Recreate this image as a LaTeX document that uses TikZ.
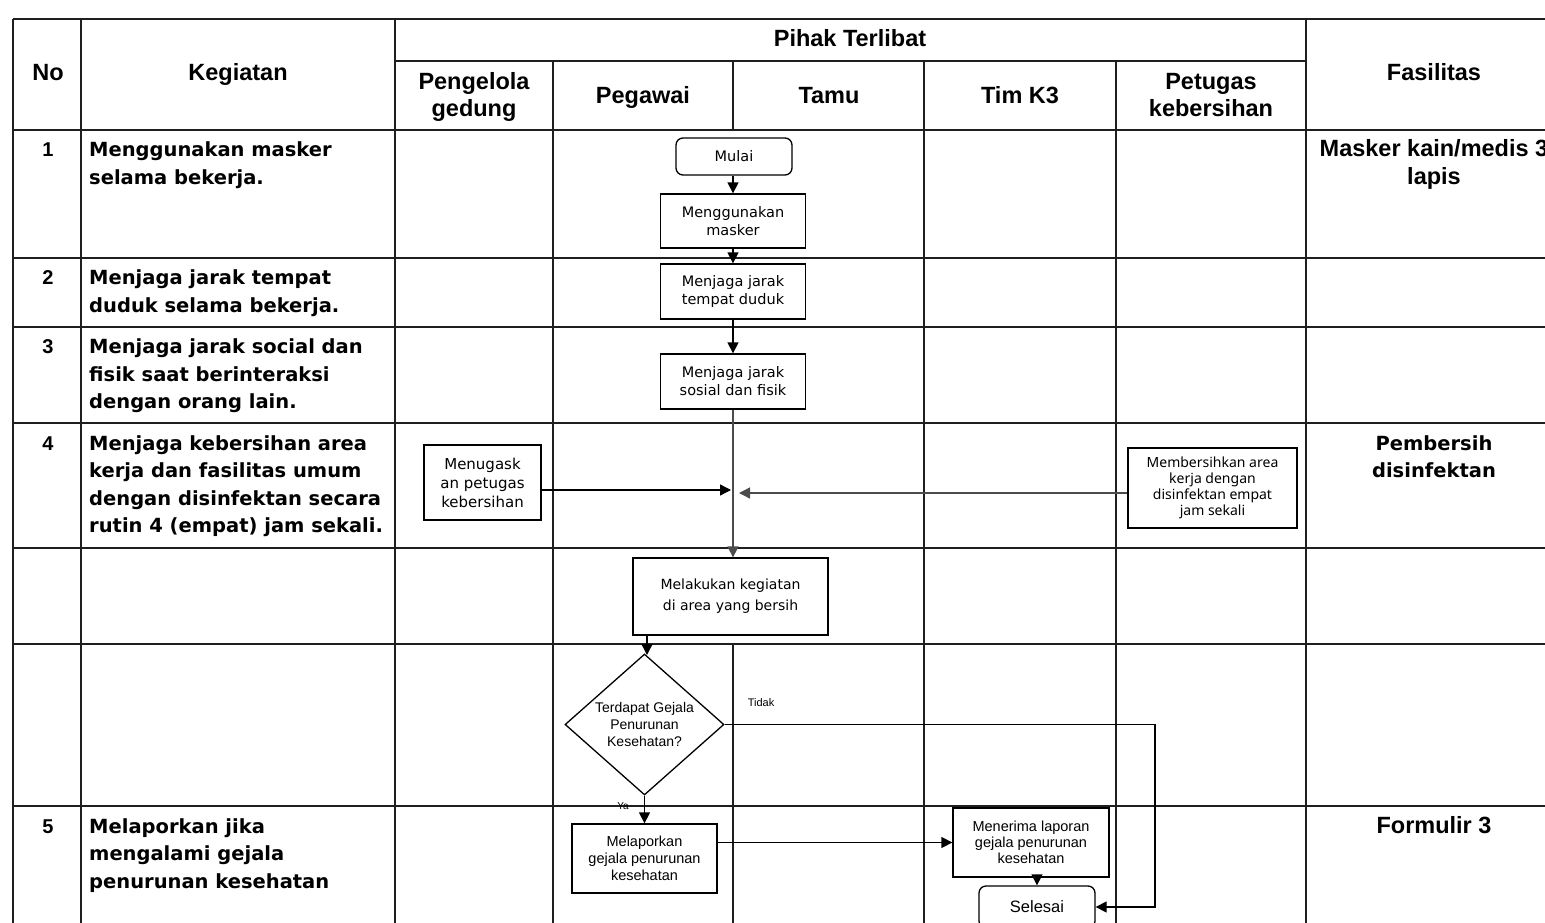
\documentclass[tikz,border=0pt]{standalone}
\usepackage{fontspec}
\setmainfont{Liberation Sans}
\newfontfamily\dvs{DejaVu Sans}
\newfontfamily\nts{Noto Sans}
\usetikzlibrary{arrows.meta,shapes.geometric}
\begin{document}
\begin{tikzpicture}[x=1pt,y=-1pt,
  tl/.style={line width=1.6pt,draw=black!88},
  hdr/.style={font=\bfseries\fontsize{23.5}{27.5}\selectfont,align=center,inner sep=0pt,anchor=base},
  num/.style={font=\bfseries\fontsize{20}{24}\selectfont,inner sep=0pt,anchor=base},
  rowt/.style={font=\dvs\bfseries\fontsize{19.5}{27.5}\selectfont,align=left,inner sep=0pt,anchor=base west},
  fas/.style={font=\bfseries\fontsize{23.5}{27.5}\selectfont,align=center,inner sep=0pt,anchor=base},
  fasn/.style={font=\dvs\bfseries\fontsize{19.5}{27.5}\selectfont,align=center,inner sep=0pt,anchor=base},
  box/.style={draw,line width=1.3pt,rectangle,inner sep=0pt,align=center,font=\dvs\fontsize{14.5}{18}\selectfont},
  rbox/.style={box,rounded corners=7pt},
  arr/.style={line width=1.3pt,draw=black,-{Triangle[length=11pt,width=11pt]}},
  small/.style={font=\fontsize{11}{13}\selectfont,inner sep=0pt}]
\useasboundingbox (0,0) rectangle (1545,923);
% ---------- table grid ----------
\draw[tl] (13,19) -- (1545,19);
\draw[tl] (395,61) -- (1306,61);
\foreach \y in {130,258,327,423,548,644,806} \draw[tl] (13,\y) -- (1545,\y);
\foreach \x in {13,81,395,1306} \draw[tl] (\x,19) -- (\x,930);
\foreach \x in {553,924,1116} \draw[tl] (\x,61) -- (\x,930);
\draw[tl] (733,61) -- (733,130);
\draw[tl] (733,644) -- (733,930);
% ---------- headers (anchor = baseline of last line) ----------
\node[hdr] (hno) at (48,81) {No};
\node[hdr] (hkeg) at (238,81) {Kegiatan};
\node[hdr] (hpihak) at (850,46.5) {Pihak Terlibat};
\node[hdr] (hpeng) at (474,117) {Pengelola\\gedung};
\node[hdr] (hpeg) at (643,103.5) {Pegawai};
\node[hdr] (htamu) at (829,103.5) {Tamu};
\node[hdr] (hk3) at (1020,103.5) {Tim K3};
\node[hdr] (hpet) at (1211,117) {Petugas\\kebersihan};
\node[hdr] (hfas) at (1434,81) {Fasilitas};
% ---------- numbers ----------
\node[num] (n1) at (48,156.7) {1};
\node[num] (n2) at (48,284.5) {2};
\node[num] (n3) at (48,353.5) {3};
\node[num] (n4) at (48,450) {4};
\node[num] (n5) at (48,833) {5};
% ---------- activities ----------
\node[rowt] (k1) at (89,184.2) {Menggunakan masker\\selama bekerja.};
\node[rowt] (k2) at (89,312) {Menjaga jarak tempat\\duduk selama bekerja.};
\node[rowt] (k3) at (89,408.5) {Menjaga jarak social dan\\fisik saat berinteraksi\\dengan orang lain.};
\node[rowt] (k4) at (89,532.5) {Menjaga kebersihan area\\kerja dan fasilitas umum\\dengan disinfektan secara\\rutin 4 (empat) jam sekali.};
\node[rowt] (k5) at (89,888) {Melaporkan jika\\mengalami gejala\\penurunan kesehatan};
% ---------- facilities ----------
\node[fas] (f1) at (1434,184.2) {Masker kain/medis 3\\lapis};
\node[fasn] (f4) at (1434,477.5) {Pembersih\\disinfektan};
\node[fas] (f5) at (1434,833) {Formulir 3};
% ---------- flow nodes ----------
\node[rbox,minimum width=116pt,minimum height=37pt] (mulai) at (734,156.5) {Mulai};
\node[box,minimum width=145pt,minimum height=54pt] (mask) at (733,221) {Menggunakan\\masker};
\node[box,minimum width=145pt,minimum height=55pt] (tempat) at (733,291.5) {Menjaga jarak\\tempat duduk};
\node[box,minimum width=145pt,minimum height=55pt] (sosial) at (733,381.5) {Menjaga jarak\\sosial dan fisik};
\node[box,minimum width=117pt,minimum height=75pt,font=\dvs\fontsize{15}{19}\selectfont] (tugas) at (482.5,482.5) {Menugask\\an petugas\\kebersihan};
\node[box,minimum width=169pt,minimum height=80pt,font=\nts\fontsize{14}{16}\selectfont] (bersih) at (1212.5,488) {Membersihkan area\\kerja dengan\\disinfektan empat\\jam sekali};
\node[box,minimum width=195pt,minimum height=77pt,font=\dvs\fontsize{14}{21}\selectfont] (lakukan) at (730.5,596.5) {Melakukan kegiatan\\di area yang bersih};
\node[draw,line width=1.3pt,shape=diamond,minimum width=159pt,minimum height=141pt,inner sep=0pt] (dia) at (644.5,724.5) {};
\node[align=center,inner sep=0pt,font=\fontsize{14}{17}\selectfont] (diat) at (dia.center) {Terdapat Gejala\\Penurunan\\Kesehatan?};
\node[box,minimum width=145pt,minimum height=69pt,font=\fontsize{14.5}{17}\selectfont] (lapor) at (644.5,858.5) {Melaporkan\\gejala penurunan\\kesehatan};
\node[box,minimum width=156pt,minimum height=69pt,font=\fontsize{14.5}{16}\selectfont] (terima) at (1031,842.5) {Menerima laporan\\gejala penurunan\\kesehatan};
\node[rbox,minimum width=116pt,minimum height=42pt,font=\fontsize{16.5}{19}\selectfont] (selesai) at (1037,907) {Selesai};
\node[small] (tidak) at (761,703) {Tidak};
\node[small,font=\fontsize{10}{12}\selectfont] (ya) at (623,806) {Ya};
\coordinate (mergeL) at (731,490);
\coordinate (mergeR) at (739,493);
\coordinate (loopA) at (1155,724.5);
\coordinate (loopB) at (1155,907);
% ---------- connectors ----------
\draw[arr] (mulai.south -| mask.north) -- (mask.north);
\draw[arr] (mask) -- (tempat);
\draw[arr] (tempat) -- (sosial);
\draw[arr,draw=black!70] (sosial.south) -- (sosial.south |- lakukan.north);
\draw[arr] (tugas.east |- mergeL) -- (mergeL);
\draw[arr,draw=black!70] (bersih.west |- mergeR) -- (mergeR);
\draw[arr] (lakukan.south -| 647,0) -- (647,655);
\draw[arr] (dia.south) -- (lapor.north);
\draw[arr] (dia.east) -- (loopA) -- (loopB) -- (selesai.east);
\draw[arr] (lapor.east |- terima.west) -- (terima.west);
\draw[arr] (terima.south -| selesai.north) -- (selesai.north);
\end{tikzpicture}
\end{document}
